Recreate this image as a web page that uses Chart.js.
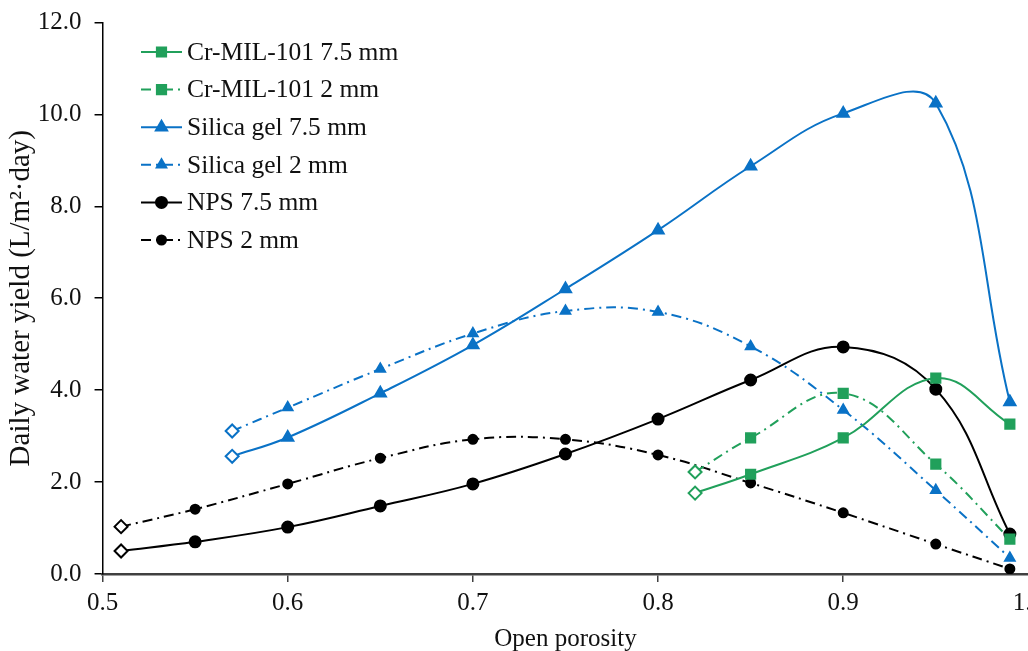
<!DOCTYPE html>
<html>
<head>
<meta charset="utf-8">
<script src="https://cdn.jsdelivr.net/npm/chart.js@4.4.1/dist/chart.umd.min.js"></script>
<style>
  html, body { margin: 0; padding: 0; background: #fff; overflow: hidden; }
  #wrap { width: 1050px; height: 651px; }
</style>
</head>
<body>
<div id="wrap"><canvas id="chart"></canvas></div>
<script>
// open porosity values per adsorbent
const porosityCr = [0.82, 0.85, 0.9, 0.95, 0.99];
const porositySilica = [0.57, 0.6, 0.65, 0.7, 0.75, 0.8, 0.85, 0.9, 0.95, 0.99];
const porosityNPS = [0.51, 0.55, 0.6, 0.65, 0.7, 0.75, 0.8, 0.85, 0.9, 0.95, 0.99];

// daily water yield, L/m2/day
const crThick = [1.76, 2.17, 2.96, 4.26, 3.26];
const crThin = [2.22, 2.96, 3.93, 2.39, 0.76];
const silicaThick = [2.56, 2.97, 3.93, 4.98, 6.2, 7.48, 8.87, 10.02, 10.24, 3.74];
const silicaThin = [3.11, 3.62, 4.46, 5.23, 5.72, 5.7, 4.95, 3.57, 1.82, 0.35];
const npsThick = [0.5, 0.7, 1.02, 1.48, 1.96, 2.61, 3.37, 4.22, 4.94, 4.02, 0.87];
const npsThin = [1.03, 1.41, 1.96, 2.52, 2.93, 2.93, 2.59, 1.98, 1.33, 0.65, 0.11];

const seriesNames = [
  "Cr-MIL-101 7.5 mm", "Cr-MIL-101 2 mm",
  "Silica gel 7.5 mm", "Silica gel 2 mm",
  "NPS 7.5 mm", "NPS 2 mm"
];
const yTicks = [0, 2, 4, 6, 8, 10, 12];

const GREEN = "#21a05b";
const BLUE = "#0a72c6";
const BLACK = "#000000";
const DASHDOT = [10, 5, 2, 5];
const FONT = "'Liberation Serif', 'Times New Roman', serif";

function series(label, xs, ys, color, marker, radius, dashed) {
  // first point of every series is an open diamond
  return {
    label: label,
    data: xs.map((x, i) => ({ x: x, y: ys[i] })),
    showLine: true,
    tension: 0.4,
    borderColor: color,
    borderWidth: 2,
    borderDash: dashed ? DASHDOT : [],
    pointStyle: xs.map((x, i) => (i === 0 ? "rectRot" : marker)),
    pointRadius: xs.map((x, i) => (i === 0 ? 6.5 : radius)),
    pointBackgroundColor: xs.map((x, i) => (i === 0 ? "#ffffff" : color)),
    pointBorderColor: color,
    pointBorderWidth: 2,
    pointHoverRadius: radius,
    legendMarker: marker,
    legendRadius: radius,
  };
}

const datasets = [
  series(seriesNames[0], porosityCr, crThick, GREEN, "rect", 6.5, false),
  series(seriesNames[1], porosityCr, crThin, GREEN, "rect", 6.5, true),
  series(seriesNames[2], porositySilica, silicaThick, BLUE, "triangle", 6.5, false),
  series(seriesNames[3], porositySilica, silicaThin, BLUE, "triangle", 5.5, true),
  series(seriesNames[4], porosityNPS, npsThick, BLACK, "circle", 5.5, false),
  series(seriesNames[5], porosityNPS, npsThin, BLACK, "circle", 4.5, true),
];

// legend with a line sample and the marker sitting on it
const lineLegend = {
  id: "lineLegend",
  afterDraw(chart) {
    const ctx = chart.ctx;
    const x0 = 141, x1 = 182, top = 52, step = 37.6;
    ctx.save();
    chart.data.datasets.forEach((ds, i) => {
      const y = top + i * step;
      ctx.strokeStyle = ds.borderColor;
      ctx.lineWidth = 2;
      ctx.setLineDash(ds.borderDash);
      ctx.beginPath();
      ctx.moveTo(x0, y);
      ctx.lineTo(x1, y);
      ctx.stroke();
      ctx.setLineDash([]);
      ctx.fillStyle = ds.borderColor;
      Chart.helpers.drawPoint(ctx, {
        pointStyle: ds.legendMarker,
        radius: ds.legendRadius,
        rotation: 0,
        borderWidth: 1,
      }, (x0 + x1) / 2, y);
      ctx.fillStyle = "#111";
      ctx.font = "25.5px " + FONT;
      ctx.textBaseline = "middle";
      ctx.textAlign = "left";
      ctx.fillText(ds.label, 187, y + 1);
    });
    ctx.restore();
  },
};

new Chart(document.getElementById("chart"), {
  type: "scatter",
  data: { datasets: datasets },
  plugins: [lineLegend],
  options: {
    responsive: true,
    maintainAspectRatio: false,
    animation: false,
    layout: { padding: { top: 2, left: 0, bottom: 0, right: 0 } },
    plugins: {
      legend: { display: false },
      tooltip: { enabled: false },
    },
    scales: {
      x: {
        type: "linear",
        min: 0.5,
        max: 1.0,
        ticks: {
          stepSize: 0.1,
          color: "#111",
          font: { family: FONT, size: 25 },
          padding: 6,
          callback: (v) => v.toFixed(1),
        },
        grid: { drawOnChartArea: false, drawTicks: true, tickLength: 8, color: "#404040", lineWidth: 1.5 },
        border: { color: "#404040", width: 2.5 },
        title: {
          display: true,
          text: "Open porosity",
          color: "#111",
          font: { family: FONT, size: 25 },
          padding: { top: 0, bottom: -3 },
        },
      },
      y: {
        min: 0,
        max: 12,
        afterBuildTicks: (scale) => {
          scale.ticks = yTicks.map((v) => ({ value: v }));
        },
        ticks: {
          color: "#111",
          font: { family: FONT, size: 25, lineHeight: 0.75 },
          padding: 13,
          callback: (v) => v.toFixed(1),
        },
        grid: { drawOnChartArea: false, drawTicks: true, tickLength: 8, color: "#000", lineWidth: 1.5 },
        border: { color: "#000", width: 1.5 },
        title: {
          display: true,
          text: "Daily water yield (L/m²·day)",
          color: "#111",
          font: { family: FONT, size: 29 },
          padding: { top: 4, bottom: -14 },
        },
      },
    },
  },
});
</script>
</body>
</html>
